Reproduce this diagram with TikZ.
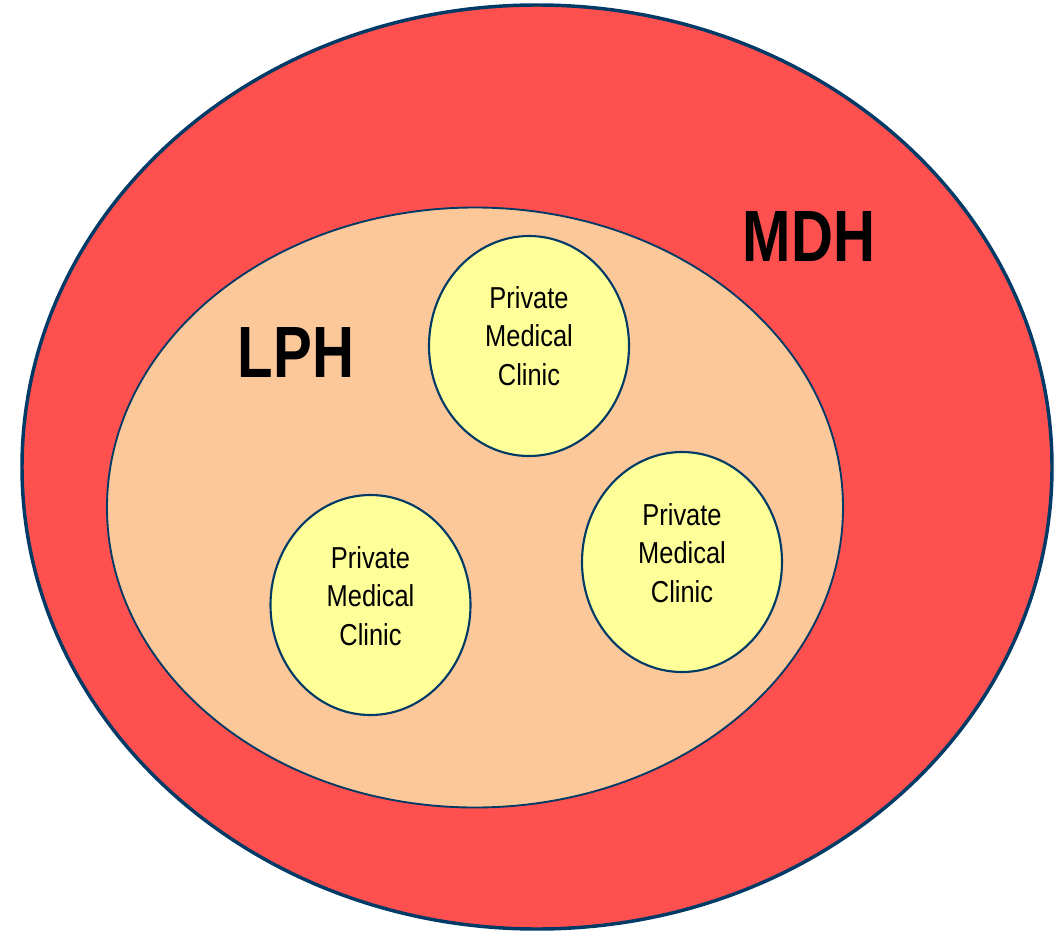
\documentclass[tikz,border=0pt]{standalone}
\usepackage{fontspec}
\setmainfont{Liberation Sans}
\newfontfamily\narrowfont[FakeStretch=0.84]{Liberation Sans}
\newfontfamily\narrowbold[FakeStretch=0.8]{Liberation Sans Bold}
\usetikzlibrary{shapes.geometric}
\definecolor{navy}{HTML}{003A66}
\definecolor{mdhred}{HTML}{FF5050}
\definecolor{peach}{HTML}{FCC899}
\definecolor{clinicyellow}{HTML}{FFFF99}
\begin{document}
\begin{tikzpicture}[x=0.75pt,y=-0.75pt,
  zone/.style={ellipse, draw=navy, inner sep=0pt, outer sep=0pt},
  clinic/.style={zone, fill=clinicyellow, line width=1.6pt, minimum width=150pt, minimum height=165pt},
  clinictext/.style={align=center, inner sep=0pt, font=\narrowfont\fontsize{22.7pt}{28.9pt}\selectfont},
  bigtext/.style={inner sep=0pt, font=\narrowbold\fontsize{54.5pt}{60pt}\selectfont}]
\useasboundingbox (0,0) rectangle (1059,931);
\node[zone, fill=mdhred, line width=2.6pt, minimum width=772.5pt, minimum height=693pt] (mdh) at (537,467) {};
\node[zone, fill=peach, line width=1.4pt, minimum width=552pt, minimum height=450pt] (lph) at (475,507.5) {};
\node[clinic] (c1) at (529,346) {};
\node[clinic] (c2) at (370.5,605) {};
\node[clinic] (c3) at (682,562) {};
\node[clinictext] (t1) at (529,336) {Private\\Medical\\Clinic};
\node[clinictext] (t2) at (370.5,596) {Private\\Medical\\Clinic};
\node[clinictext] (t3) at (682,553) {Private\\Medical\\Clinic};
\node[bigtext] (mdhlabel) at (809,237) {MDH};
\node[bigtext] (lphlabel) at (296,352) {LPH};
\end{tikzpicture}
\end{document}
